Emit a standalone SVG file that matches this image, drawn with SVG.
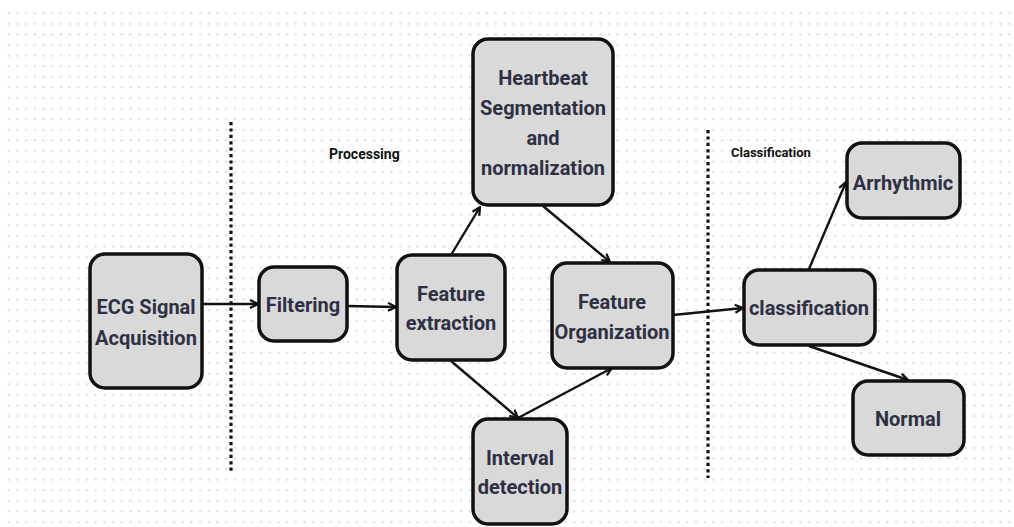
<svg xmlns="http://www.w3.org/2000/svg" width="1014" height="527" viewBox="0 0 1014 527">
<style>
.node rect{fill:#d9d9d9;stroke:#111;stroke-width:3.5}
.node text{font-family:Roboto,"Liberation Sans",sans-serif;font-weight:700;font-size:20px;fill:#2e3044;text-anchor:middle}
.lbl{font-family:Roboto,"Liberation Sans",sans-serif;font-weight:700;font-size:14px;fill:#111}
.conn line{stroke:#111;stroke-width:2.4;fill:none;marker-end:url(#arr)}
.sep{stroke:#111;stroke-width:3.2;stroke-dasharray:3.2 3.2;fill:none}
</style>
<defs>
<pattern id="dots" x="4.35" y="8" width="8.7" height="10.6" patternUnits="userSpaceOnUse">
<circle cx="4.35" cy="5.3" r="0.95" fill="#c8c8c8"/>
</pattern>
<marker id="arr" viewBox="0 0 10 10" refX="9" refY="5" markerWidth="10" markerHeight="10" markerUnits="userSpaceOnUse" orient="auto">
<path d="M1,1 L9,5 L1,9" fill="none" stroke="#111" stroke-width="2.2"/>
</marker>
</defs>
<rect x="0" y="0" width="1014" height="527" fill="#fff"/>
<rect x="4" y="8" width="1010" height="519" fill="url(#dots)"/>
<line class="sep" x1="231" y1="122" x2="231" y2="471"/>
<line class="sep" x1="708" y1="130" x2="708" y2="478"/>
<text class="lbl" x="329" y="159">Processing</text>
<text class="lbl" x="731" y="157" style="font-size:13px">Classification</text>
<g id="connectors" class="conn">
<line x1="203" y1="304" x2="258" y2="304"/>
<line x1="347" y1="306" x2="396" y2="307"/>
<line x1="451" y1="255" x2="480" y2="207"/>
<line x1="543" y1="206" x2="610" y2="262"/>
<line x1="451" y1="361" x2="518" y2="418"/>
<line x1="518" y1="418" x2="612" y2="368"/>
<line x1="673" y1="315" x2="743" y2="308"/>
<line x1="809" y1="269" x2="846" y2="182"/>
<line x1="809" y1="346" x2="908" y2="380"/>
</g>
<g id="ecg" class="node"><rect x="90" y="254" width="112" height="134" rx="15"/><text x="146" y="314">ECG Signal</text><text x="146" y="345">Acquisition</text></g>
<g id="filtering" class="node"><rect x="259" y="267" width="88" height="74" rx="15"/><text x="303" y="312">Filtering</text></g>
<g id="feature-extraction" class="node"><rect x="397" y="255" width="108" height="105" rx="15"/><text x="451" y="301">Feature</text><text x="451" y="330">extraction</text></g>
<g id="heartbeat" class="node"><rect x="473" y="39" width="140" height="166" rx="15"/><text x="543" y="85">Heartbeat</text><text x="543" y="115">Segmentation</text><text x="543" y="145">and</text><text x="543" y="175">normalization</text></g>
<g id="feature-organization" class="node"><rect x="552" y="263" width="121" height="105" rx="15"/><text x="612" y="309">Feature</text><text x="612" y="339">Organization</text></g>
<g id="interval" class="node"><rect x="473" y="419" width="94" height="105" rx="15"/><text x="520" y="465">Interval</text><text x="520" y="494">detection</text></g>
<g id="classification" class="node"><rect x="744" y="270" width="131" height="75" rx="15"/><text x="809" y="315">classification</text></g>
<g id="arrhythmic" class="node"><rect x="847" y="143" width="113" height="75" rx="15"/><text x="903" y="190">Arrhythmic</text></g>
<g id="normal" class="node"><rect x="853" y="381" width="111" height="74" rx="15"/><text x="908" y="426">Normal</text></g>
</svg>
